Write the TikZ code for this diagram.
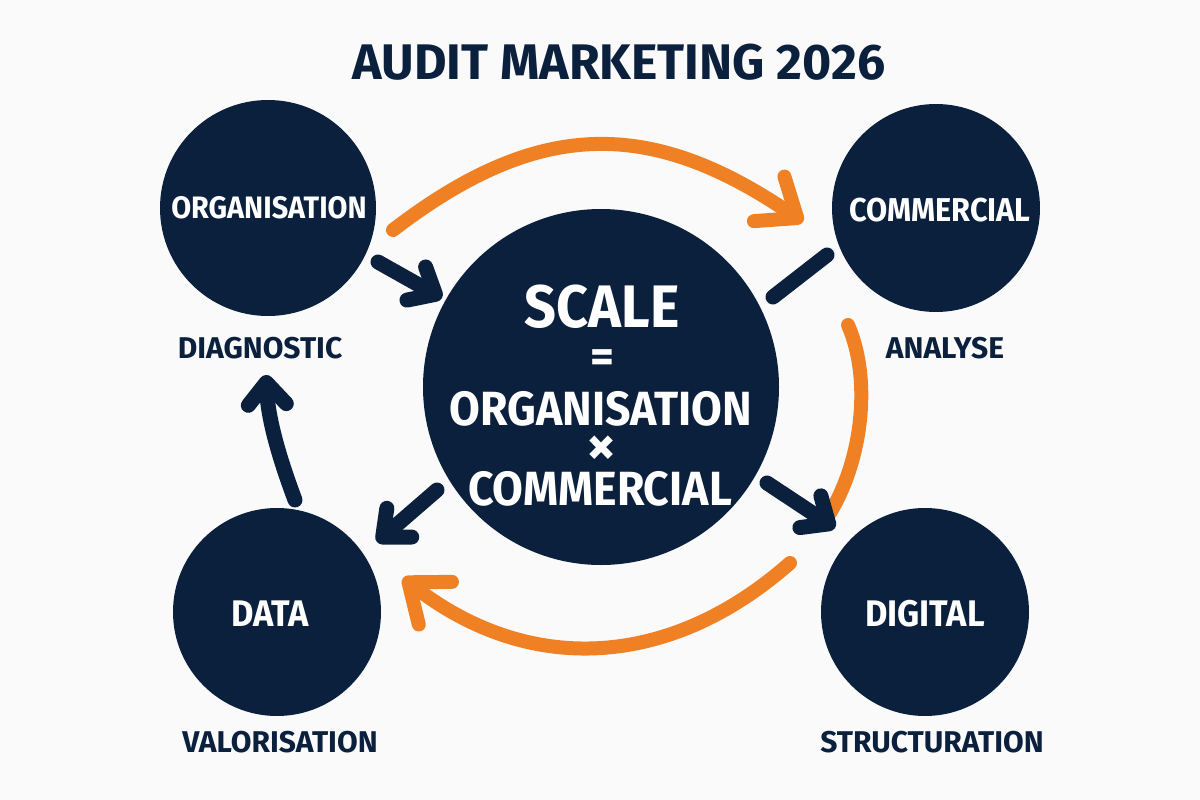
\documentclass[tikz,border=0pt]{standalone}
\usepackage{fontspec}
\setmainfont{Fira Sans}
\newfontfamily\condfont{Fira Sans}[FakeStretch=0.93]
\usetikzlibrary{arrows.meta}
\definecolor{navy}{RGB}{10,32,60}
\definecolor{orng}{RGB}{240,128,36}
\definecolor{bg}{RGB}{250,250,250}
\tikzset{
  bubble/.style={circle, fill=navy, inner sep=0pt, minimum size=#1},
  lbl/.style={text=navy, anchor=base, inner sep=0pt, font=\bfseries\fontsize{30}{32}\selectfont},
  intext/.style={text=white, anchor=base, inner sep=0pt, font=\condfont\bfseries\fontsize{31}{34}\selectfont},
  bottext/.style={text=white, anchor=base, inner sep=0pt, font=\condfont\bfseries\fontsize{37}{40}\selectfont},
  bigtext/.style={text=white, anchor=base, inner sep=0pt, font=\condfont\bfseries\fontsize{48}{52}\selectfont},
  navyarrow/.style={draw=navy, line width=15pt, line cap=round, -{Straight Barb[round,length=22pt,width=38pt]}},
  navyline/.style={draw=navy, line width=15pt, line cap=round},
  orangearrow/.style={draw=orng, line width=14pt, line cap=round, -{Straight Barb[round,length=34pt,width=54pt]}},
  orangeline/.style={draw=orng, line width=14pt, line cap=round},
}
\begin{document}
\begin{tikzpicture}[x=1pt,y=-1pt]
\fill[bg] (0,0) rectangle (1200,800);
\useasboundingbox (0,0) rectangle (1200,800);

% title
\node[text=navy, anchor=base, inner sep=0pt, font=\bfseries\fontsize{50}{52}\selectfont] (title) at (619,80) {AUDIT MARKETING 2026};

% circles
\node[bubble=216pt] (org) at (268,208) {};
\node[bubble=208pt] (com) at (936,208) {};
\node[bubble=356pt] (ctr) at (601,387) {};
\node[bubble=208pt] (dat) at (277,612) {};
\node[bubble=208pt] (dig) at (925,612) {};

% circle texts
\node[intext] (orgt) at (269,218) {ORGANISATION};
\node[intext, font=\condfont\bfseries\fontsize{33}{36}\selectfont] (comt) at (940,221) {COMMERCIAL};
\node[bottext] (datt) at (270,626) {DATA};
\node[bottext] (digt) at (925,626) {DIGITAL};

\node[text=white, anchor=base, inner sep=0pt, font=\condfont\bfseries\fontsize{60}{62}\selectfont] (scale) at (602,327) {SCALE};
\node[text=white, inner sep=0pt, font=\bfseries\fontsize{46}{48}\selectfont] (eq) at (602,361) {=};
\node[bigtext] (orgbig) at (601,425) {ORGANISATION};
\node[text=white, inner sep=0pt, font=\bfseries\fontsize{58}{60}\selectfont] (times) at (602,451) {×};
\node[bigtext] (combig) at (600,505) {COMMERCIAL};

% labels
\node[lbl] (diag) at (260,358) {DIAGNOSTIC};
\node[lbl] (anal) at (945,358) {ANALYSE};
\node[lbl] (valo) at (280,752) {VALORISATION};
\node[lbl] (stru) at (932,752) {STRUCTURATION};

% connector end points
\coordinate (o1s) at (393,230);
\coordinate (o1e) at (803,222);
\coordinate (o2s) at (848,325);
\coordinate (o2e) at (830,513);
\coordinate (o3s) at (790,563);
\coordinate (o3e) at (403,578);
\coordinate (n1s) at (378,262);
\coordinate (n1e) at (442,298);
\coordinate (n2s) at (437,490);
\coordinate (n2e) at (377,542);
\coordinate (n3s) at (767,483);
\coordinate (n3e) at (835,528);
\coordinate (n4s) at (295,500);
\coordinate (n4e) at (266,375);
\coordinate (n5s) at (827,255);
\coordinate (n5e) at (773,297);

% orange arcs
\draw[orangearrow] (o1s) .. controls (539,118) and (651,118) .. (o1e);
\draw[orangeline] (o2s) .. controls (872,380) and (862,460) .. (o2e);
\draw[orangearrow] (o3s) .. controls (670,669) and (529,676) .. (o3e);

% navy arrows
\draw[navyarrow] (n1s) -- (n1e);
\draw[navyarrow] (n2s) -- (n2e);
\draw[navyarrow] (n3s) -- (n3e);
\draw[navyarrow] (n4s) .. controls (280,460) and (268,420) .. (n4e);
\draw[navyline] (n5s) -- (n5e);
\end{tikzpicture}
\end{document}
